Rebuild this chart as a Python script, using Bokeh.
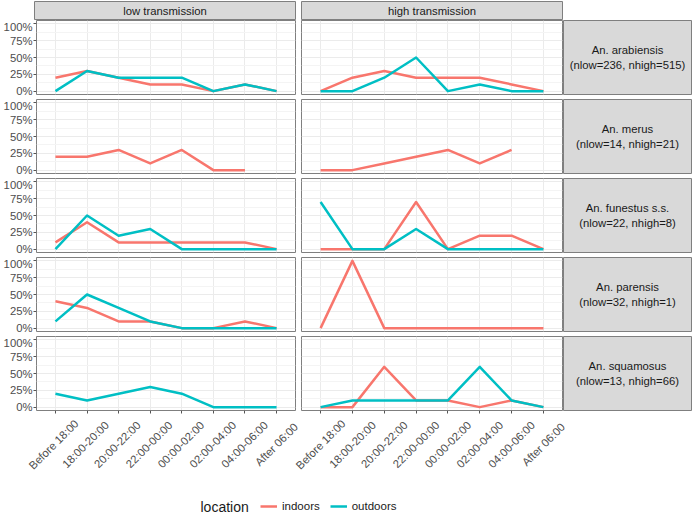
import math
from bokeh.plotting import figure
from bokeh.layouts import column, row
from bokeh.models import (Range1d, FixedTicker, NumeralTickFormatter, Label,
                          Legend, LegendItem, Spacer, ColumnDataSource)
from bokeh.core.properties import value
from bokeh.embed import file_html
from bokeh.resources import INLINE

# ---------------- data ----------------
times = ["Before 18:00", "18:00-20:00", "20:00-22:00", "22:00-00:00",
         "00:00-02:00", "02:00-04:00", "04:00-06:00", "After 06:00"]
transmissions = ["low transmission", "high transmission"]
species_labels = [
    "An. arabiensis\n(nlow=236, nhigh=515)",
    "An. merus\n(nlow=14, nhigh=21)",
    "An. funestus s.s.\n(nlow=22, nhigh=8)",
    "An. parensis\n(nlow=32, nhigh=1)",
    "An. squamosus\n(nlow=13, nhigh=66)",
]
locations = ["indoors", "outdoors"]
y_ticks = [0, 0.25, 0.5, 0.75, 1.0]
y_minor = [0.125, 0.375, 0.625, 0.875]

arab_low_in = [0.2, 0.3, 0.2, 0.1, 0.1, 0.0, 0.1, 0.0]
arab_low_out = [0.0, 0.3, 0.2, 0.2, 0.2, 0.0, 0.1, 0.0]
arab_high_in = [0.0, 0.2, 0.3, 0.2, 0.2, 0.2, 0.1, 0.0]
arab_high_out = [0.0, 0.0, 0.2, 0.5, 0.0, 0.1, 0.0, 0.0]
merus_low_in = [0.2, 0.2, 0.3, 0.1, 0.3, 0.0, 0.0]
merus_high_in = [0.0, 0.0, 0.1, 0.2, 0.3, 0.1, 0.3]
fun_low_in = [0.1, 0.4, 0.1, 0.1, 0.1, 0.1, 0.1, 0.0]
fun_low_out = [0.0, 0.5, 0.2, 0.3, 0.0, 0.0, 0.0, 0.0]
fun_high_in = [0.0, 0.0, 0.0, 0.7, 0.0, 0.2, 0.2, 0.0]
fun_high_out = [0.7, 0.0, 0.0, 0.3, 0.0, 0.0, 0.0, 0.0]
par_low_in = [0.4, 0.3, 0.1, 0.1, 0.0, 0.0, 0.1, 0.0]
par_low_out = [0.1, 0.5, 0.3, 0.1, 0.0, 0.0, 0.0, 0.0]
par_high_in = [0.0, 1.0, 0.0, 0.0, 0.0, 0.0, 0.0, 0.0]
squ_low_out = [0.2, 0.1, 0.2, 0.3, 0.2, 0.0, 0.0, 0.0]
squ_high_in = [0.0, 0.0, 0.6, 0.1, 0.1, 0.0, 0.1, 0.0]
squ_high_out = [0.0, 0.1, 0.1, 0.1, 0.1, 0.6, 0.1, 0.0]

panels = [
    [(arab_low_in, arab_low_out), (arab_high_in, arab_high_out)],
    [(merus_low_in, None), (merus_high_in, None)],
    [(fun_low_in, fun_low_out), (fun_high_in, fun_high_out)],
    [(par_low_in, par_low_out), (par_high_in, None)],
    [(None, squ_low_out), (squ_high_in, squ_high_out)],
]

# category positions 1..n on a discrete-like axis (ggplot style)
xs = list(range(1, len(times) + 1))

# ---------------- style ----------------
FONT = "Liberation Sans"
RED = "#F8766D"
CYAN = "#00BFC4"
BORDER = "#7F7F7F"
TICK = "#555555"
STRIP_FILL = "#D9D9D9"
GRID = "#EBEBEB"
GRID_MINOR = "#F4F4F4"
AX_TEXT = "#4D4D4D"
TXT = "#1A1A1A"
FS = "11.3px"

LEFT_W = 34
PANEL_W = 261
GAP = 5
STRIP_W = 129
TOP_H = 20
PANEL_H = 74
VGAP = 5
TICK_H = 5
LBL_H = 70
LEG_H = 28
LINE_W = 2.5
LABEL_CENTER = 34  # px below the bottom panels
X_LO = 0.4
X_HI = len(times) + 0.6


def style_axis(ax):
    ax.major_label_text_font = FONT
    ax.major_label_text_font_size = FS
    ax.major_label_text_color = AX_TEXT
    ax.axis_line_color = None
    ax.major_tick_line_color = TICK
    ax.major_tick_out = 3
    ax.major_tick_in = 0
    ax.minor_tick_out = 0
    ax.minor_tick_in = 0
    ax.minor_tick_line_color = None
    ax.major_label_standoff = 1


def make_panel(indoor, outdoor, col, last):
    show_y = col == 0
    left = LEFT_W if show_y else GAP
    bottom = TICK_H if last else VGAP
    p = figure(width=left + PANEL_W + 1, height=PANEL_H + bottom,
               x_range=Range1d(X_LO, X_HI), y_range=Range1d(-0.05, 1.05),
               x_axis_location="below" if last else None,
               y_axis_location="left" if show_y else None,
               output_backend="svg", toolbar_location=None,
               min_border_left=left, min_border_right=1,
               min_border_top=0, min_border_bottom=bottom,
               background_fill_color="white", border_fill_color="white",
               outline_line_color=BORDER, outline_line_width=1)
    p.xgrid.ticker = FixedTicker(ticks=xs)
    p.xgrid.grid_line_color = GRID
    p.xgrid.grid_line_width = 1
    p.ygrid.ticker = FixedTicker(ticks=y_ticks, minor_ticks=y_minor)
    p.ygrid.grid_line_color = GRID
    p.ygrid.grid_line_width = 1
    p.ygrid.minor_grid_line_color = GRID_MINOR
    p.ygrid.minor_grid_line_width = 1
    if show_y:
        p.yaxis.ticker = FixedTicker(ticks=y_ticks)
        p.yaxis.formatter = NumeralTickFormatter(format="0%")
        style_axis(p.yaxis[0])
    if last:
        style_axis(p.xaxis[0])
        p.xaxis.ticker = FixedTicker(ticks=xs)
        # tick marks only; the rotated tick labels are drawn in the label strip
        p.xaxis.major_label_text_color = None
        p.xaxis.major_label_text_font_size = "1px"
        p.xaxis.major_label_standoff = 0
    if indoor is not None:
        p.line(x=xs[:len(indoor)], y=indoor, line_color=RED,
               line_width=LINE_W, line_join="round")
    if outdoor is not None:
        p.line(x=xs[:len(outdoor)], y=outdoor, line_color=CYAN,
               line_width=LINE_W, line_join="round")
    return p


def make_strip(text, left, w, h, top=0, bottom=0, right=0):
    p = figure(width=left + w + right, height=h + top + bottom,
               x_range=Range1d(0, 1), y_range=Range1d(0, 1),
               x_axis_location=None, y_axis_location=None,
               output_backend="svg", toolbar_location=None,
               min_border_left=left, min_border_right=right,
               min_border_top=top, min_border_bottom=bottom,
               background_fill_color=STRIP_FILL, border_fill_color="white",
               outline_line_color=BORDER, outline_line_width=1)
    p.grid.visible = False
    p.add_layout(Label(x=0.5, y=0.5, text=text, text_align="center",
                       text_baseline="middle", text_font=FONT,
                       text_font_size=FS, text_color=TXT))
    return p


rows = []
top_row = row(
    make_strip(transmissions[0], LEFT_W, PANEL_W, TOP_H - 1, top=1, right=1),
    make_strip(transmissions[1], GAP, PANEL_W, TOP_H - 1, top=1, right=1),
    Spacer(width=STRIP_W, height=TOP_H),
)
rows.append(top_row)

n = len(panels)
for i, (lowp, highp) in enumerate(panels):
    last = i == n - 1
    pl = make_panel(lowp[0], lowp[1], 0, last)
    ph = make_panel(highp[0], highp[1], 1, last)
    ps = make_strip(species_labels[i], 0, STRIP_W - 1, PANEL_H,
                    bottom=TICK_H if last else VGAP, right=1)
    rows.append(row(pl, ph, ps))

# ---------------- rotated x tick labels (one strip under both columns) ----------------
TOTAL_W = LEFT_W + PANEL_W + 1 + GAP + PANEL_W + 1 + STRIP_W
LBL_W = TOTAL_W - STRIP_W + 12
u = PANEL_W / (X_HI - X_LO)                 # px per category unit in a panel
lb_start = X_LO - LEFT_W / u                # same scale as the left panels
shift = (PANEL_W + 1 + GAP) / u             # offset of the right column
lbl_src = ColumnDataSource(data=dict(
    x=xs + [x + shift for x in xs],
    label=times + times,
))
lb = figure(width=LBL_W, height=LBL_H,
            x_range=Range1d(lb_start, lb_start + LBL_W / u),
            y_range=Range1d(0, LBL_H), x_axis_location=None, y_axis_location=None,
            output_backend="svg", toolbar_location=None, min_border=0,
            outline_line_color=None, background_fill_color="white",
            border_fill_color="white")
lb.grid.visible = False
lb.text(x="x", y=LBL_H - (LABEL_CENTER - TICK_H), text="label", source=lbl_src,
        angle=math.pi / 4, text_align="center", text_baseline="middle",
        text_font=value(FONT), text_font_size=value(FS), text_color=AX_TEXT)
rows.append(row(lb, Spacer(width=TOTAL_W - LBL_W, height=LBL_H)))

# ---------------- legend ----------------
nan = float("nan")
lf = figure(width=TOTAL_W, height=LEG_H, x_range=Range1d(0, TOTAL_W),
            y_range=Range1d(0, LEG_H), x_axis_location=None, y_axis_location=None,
            output_backend="svg", toolbar_location=None, min_border=0,
            outline_line_color=None, background_fill_color="white",
            border_fill_color="white")
lf.grid.visible = False
r_in = lf.line(x=[nan], y=[nan], line_color=RED, line_width=LINE_W)
r_out = lf.line(x=[nan], y=[nan], line_color=CYAN, line_width=LINE_W)
legend = Legend(items=[LegendItem(label=value(locations[0]), renderers=[r_in]),
                       LegendItem(label=value(locations[1]), renderers=[r_out])],
                orientation="horizontal", location=(260, 0), padding=0, margin=0,
                spacing=10, label_standoff=5, glyph_width=17, glyph_height=14,
                label_height=14,
                border_line_color=None, background_fill_alpha=0,
                label_text_font=FONT, label_text_font_size="11.5px",
                label_text_color=TXT)
lf.add_layout(legend)
lf.add_layout(Label(x=200, y=7, text="location", text_align="left",
                    text_baseline="middle", text_font=FONT,
                    text_font_size="14px", text_color=TXT))
rows.append(lf)

layout = column(*rows)
open("out.html", "w").write(file_html(layout, INLINE))
